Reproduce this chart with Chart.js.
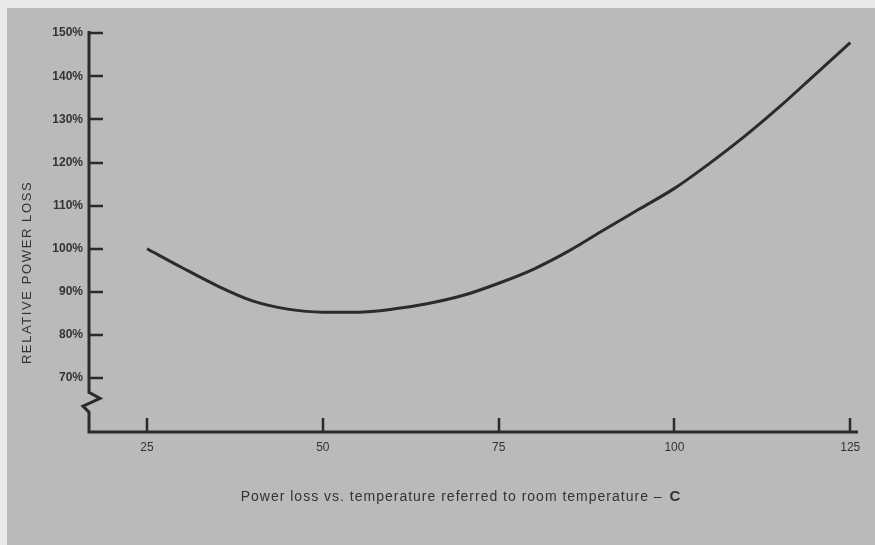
<!DOCTYPE html>
<html>
<head>
<meta charset="utf-8">
<script src="https://cdn.jsdelivr.net/npm/chart.js@4/dist/chart.umd.min.js"></script>
<style>
  html, body { margin: 0; padding: 0; background: #e9e9e9; }
  #wrap { width: 875px; height: 545px; position: relative; }
</style>
</head>
<body>
<div id="wrap"><canvas id="lossChart" width="875" height="545"></canvas></div>
<script>
// temperature (C) and relative power loss (%)
const temps = [25, 30, 35, 40, 45, 50, 55, 60, 65, 70, 75, 80, 85, 90, 95, 100, 105, 110, 115, 120, 125];
const lossPct = [100, 95.6, 91.4, 87.9, 86.0, 85.3, 85.3, 86.0, 87.3, 89.2, 92.0, 95.3, 99.5, 104.4, 109.2, 114.0, 119.8, 126.1, 133.0, 140.4, 147.8];
const xTickValues = [25, 50, 75, 100, 125];
const yTickValues = [70, 80, 90, 100, 110, 120, 130, 140, 150];
const yTitle = "RELATIVE POWER LOSS";
const xTitle = "Power loss vs. temperature referred to room temperature \u2013";
const xTitleUnit = "C";

const ink = "#2b2b2b";
const textInk = "#333333";
const fontFam = "'Liberation Sans', Arial, sans-serif";

// gray paper background, white scan strip on top and left
const paperBg = {
  id: "paperBg",
  beforeDraw(chart) {
    const ctx = chart.ctx;
    ctx.save();
    ctx.fillStyle = "#e9e9e9";
    ctx.fillRect(0, 0, chart.width, chart.height);
    ctx.fillStyle = "#bababa";
    ctx.fillRect(7, 8, chart.width - 7, chart.height - 8);
    ctx.restore();
  }
};

// axes with inward ticks, the broken y axis and both titles
const axesDraw = {
  id: "axesDraw",
  afterDraw(chart) {
    const ctx = chart.ctx;
    const xs = chart.scales.x;
    const ys = chart.scales.y;
    const area = chart.chartArea;
    const x0 = area.left;
    const yBottom = area.bottom;

    ctx.save();
    ctx.strokeStyle = ink;
    ctx.lineCap = "butt";
    ctx.lineJoin = "miter";

    // y axis with zigzag break, then x axis
    ctx.lineWidth = 3;
    ctx.beginPath();
    ctx.moveTo(x0, area.top);
    ctx.lineTo(x0, ys.getPixelForValue(66.7));
    ctx.lineTo(x0 + 11, ys.getPixelForValue(65.3));
    ctx.lineTo(x0 - 6, ys.getPixelForValue(63.5));
    ctx.lineTo(x0, ys.getPixelForValue(62.1));
    ctx.lineTo(x0, yBottom);
    ctx.lineTo(area.right, yBottom);
    ctx.stroke();

    // ticks
    ctx.lineWidth = 2.5;
    ctx.beginPath();
    yTickValues.forEach(v => {
      const py = Math.round(ys.getPixelForValue(v));
      ctx.moveTo(x0, py);
      ctx.lineTo(x0 + 14, py);
    });
    xTickValues.forEach(v => {
      const px = Math.round(xs.getPixelForValue(v));
      ctx.moveTo(px, yBottom);
      ctx.lineTo(px, yBottom - 14);
    });
    ctx.stroke();

    // y title
    ctx.fillStyle = textInk;
    ctx.font = "13px " + fontFam;
    ctx.letterSpacing = "1.6px";
    ctx.textAlign = "center";
    ctx.textBaseline = "middle";
    ctx.save();
    ctx.translate(27, ys.getPixelForValue(94.5));
    ctx.rotate(-Math.PI / 2);
    ctx.fillText(yTitle, 0, 0);
    ctx.restore();

    // x title
    ctx.letterSpacing = "1px";
    ctx.textAlign = "left";
    ctx.font = "14px " + fontFam;
    const tw = ctx.measureText(xTitle + " ").width;
    ctx.font = "bold 15px " + fontFam;
    const cw = ctx.measureText(xTitleUnit).width;
    const startX = 460 - (tw + cw) / 2;
    ctx.font = "14px " + fontFam;
    ctx.fillText(xTitle + " ", startX, 497);
    ctx.font = "bold 15px " + fontFam;
    ctx.fillText(xTitleUnit, startX + tw + 2, 497);
    ctx.restore();
  }
};

new Chart(document.getElementById("lossChart"), {
  type: "line",
  data: {
    datasets: [{
      data: temps.map((t, i) => ({ x: t, y: lossPct[i] })),
      borderColor: ink,
      borderWidth: 3,
      pointRadius: 0,
      tension: 0.4,
      cubicInterpolationMode: "monotone",
      fill: false
    }]
  },
  options: {
    responsive: false,
    animation: false,
    layout: { padding: { left: 0, right: 17, top: 31, bottom: 0 } },
    plugins: { legend: { display: false }, tooltip: { enabled: false } },
    scales: {
      x: {
        type: "linear",
        min: 16.75,
        max: 126.1,
        afterFit(scale) { scale.height = 113; },
        afterBuildTicks(scale) { scale.ticks = xTickValues.map(v => ({ value: v })); },
        grid: { display: false, drawTicks: false },
        border: { display: false },
        ticks: {
          padding: 8,
          color: textInk,
          font: { family: fontFam, size: 12 },
          maxRotation: 0
        }
      },
      y: {
        type: "linear",
        min: 57.5,
        max: 150.5,
        afterFit(scale) { scale.width = 89; },
        afterBuildTicks(scale) { scale.ticks = yTickValues.map(v => ({ value: v })); },
        grid: { display: false, drawTicks: false },
        border: { display: false },
        ticks: {
          padding: 6,
          color: textInk,
          font: { family: fontFam, size: 12, weight: "bold" },
          callback: v => v + "%"
        }
      }
    }
  },
  plugins: [paperBg, axesDraw]
});
</script>
</body>
</html>
